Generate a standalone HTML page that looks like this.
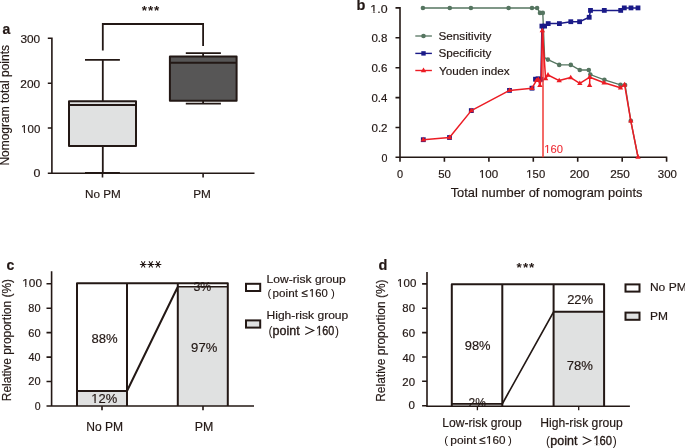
<!DOCTYPE html>
<html><head><meta charset="utf-8">
<style>
html,body{margin:0;padding:0;background:#fff;width:685px;height:448px;overflow:hidden}
svg{display:block;will-change:transform}
*{-webkit-font-smoothing:antialiased}
text{font-family:"Liberation Sans",sans-serif;fill:#231815;stroke:#231815;stroke-width:0.18px}
</style></head>
<body>
<svg width="685" height="448" viewBox="0 0 685 448">
<rect width="685" height="448" fill="#fff"/>

<rect x="69" y="101.3" width="67" height="44.7" fill="#e0e1e1"/>
<rect x="169.9" y="56.4" width="66.7" height="44.4" fill="#575656"/>

<text x="2.6" y="34" font-size="14" font-weight="bold">a</text>
<text x="141.8 147.9 154" y="14.8" font-size="13.5" font-weight="bold" style="stroke-width:0">***</text>
<text x="20.43" y="42.60" font-size="11.40" textLength="19.73" lengthAdjust="spacingAndGlyphs">300</text><text x="20.31" y="88.30" font-size="11.40" textLength="19.85" lengthAdjust="spacingAndGlyphs">200</text><text x="21.14" y="133.10" font-size="11.40" textLength="19.21" lengthAdjust="spacingAndGlyphs">100</text><text x="33.50" y="177.30" font-size="11.40" textLength="6.91" lengthAdjust="spacingAndGlyphs">0</text><text x="84.96" y="198.20" font-size="11.80" textLength="35.79" lengthAdjust="spacingAndGlyphs">No PM</text><text x="193.16" y="198.20" font-size="11.80" textLength="17.69" lengthAdjust="spacingAndGlyphs">PM</text>
<text transform="translate(8.8 165.6) rotate(-90)" font-size="12" textLength="120.6" lengthAdjust="spacingAndGlyphs">Nomogram total points</text>
<rect x="21.07" y="131.69" width="2.92" height="1.80" fill="#fff"/><rect x="25.11" y="131.69" width="2.32" height="1.80" fill="#fff"/>
<g stroke="#231815" fill="none">
<path stroke-width="1.8" d="M102.8 50.5V24H203.1V46"/>
<path stroke-width="1.6" d="M51.9 37.5V174.1M47.8 38.3H51.9M47.8 83.2H51.9M47.8 128H51.9M47.8 173.3H51.9M51.1 173.3H254.5M102.5 173.3V177.6M203.1 173.3V177.6"/>
<path stroke-width="1.8" d="M102.8 59.9V101.3M102.8 146V173M85 59.9H119.9M85 172.8H119.9M203.1 53.1V56.4M203.1 100.8V103.7M185.8 53.1H220.9M185.8 103.7H220.9"/>
<path stroke-width="2" stroke-linejoin="round" d="M69 101.3H136V146H69ZM69 105H136M169.9 56.4H236.6V100.8H169.9ZM169.9 62.8H236.6"/>
</g>

<text x="356.4" y="10.1" font-size="14.5" font-weight="bold">b</text>
<g stroke="#231815" stroke-width="1.6" fill="none">
<path d="M400 7.1V158.1M395.5 7.9H400M395.5 37.8H400M395.5 67.7H400M395.5 97.6H400M395.5 127.5H400M395.5 157.3H400M399.2 157.3H667.3M400 157.3V161.8M444.4 157.3V161.8M488.9 157.3V161.8M533.3 157.3V161.8M577.7 157.3V161.8M622.2 157.3V161.8M666.6 157.3V161.8"/>
</g>
<text x="370.38" y="12.50" font-size="11.70" textLength="17.12" lengthAdjust="spacingAndGlyphs">1.0</text><text x="371.44" y="42.40" font-size="11.70" textLength="16.09" lengthAdjust="spacingAndGlyphs">0.8</text><text x="371.44" y="72.30" font-size="11.70" textLength="16.09" lengthAdjust="spacingAndGlyphs">0.6</text><text x="371.44" y="102.20" font-size="11.70" textLength="15.90" lengthAdjust="spacingAndGlyphs">0.4</text><text x="371.44" y="132.10" font-size="11.70" textLength="16.15" lengthAdjust="spacingAndGlyphs">0.2</text><text x="381.47" y="162.00" font-size="11.70" textLength="5.97" lengthAdjust="spacingAndGlyphs">0</text><text x="397.06" y="178.40" font-size="11.10" textLength="6.09" lengthAdjust="spacingAndGlyphs">0</text><text x="438.24" y="178.40" font-size="11.10" textLength="12.68" lengthAdjust="spacingAndGlyphs">50</text><text x="478.93" y="178.40" font-size="11.10" textLength="19.31" lengthAdjust="spacingAndGlyphs">100</text><text x="526.36" y="178.40" font-size="11.10" textLength="18.78" lengthAdjust="spacingAndGlyphs">150</text><text x="569.71" y="178.40" font-size="11.10" textLength="19.64" lengthAdjust="spacingAndGlyphs">200</text><text x="610.21" y="178.40" font-size="11.10" textLength="19.64" lengthAdjust="spacingAndGlyphs">250</text><text x="657.84" y="178.40" font-size="11.10" textLength="19.10" lengthAdjust="spacingAndGlyphs">300</text><text x="450.68" y="197.00" font-size="13.38" textLength="191.79" lengthAdjust="spacingAndGlyphs">Total number of nomogram points</text><text x="438.47" y="39.60" font-size="11.00" textLength="52.85" lengthAdjust="spacingAndGlyphs">Sensitivity</text><text x="438.47" y="57.10" font-size="11.00" textLength="52.85" lengthAdjust="spacingAndGlyphs">Specificity</text><text x="439.11" y="75.20" font-size="11.00" textLength="70.46" lengthAdjust="spacingAndGlyphs">Youden index</text>
<path d="M415.3 36H431.9" stroke="#557560" stroke-width="1.3"/><circle cx="423.5" cy="36" r="2.3" fill="#557560"/>
<path d="M415.3 53.4H431.9" stroke="#1a1a88" stroke-width="1.4"/><rect x="421.3" y="51.2" width="4.4" height="4.4" fill="#1a1a88"/>
<path d="M415.3 70.5H431.9" stroke="#ec1c24" stroke-width="1.4"/><path d="M423.5 67.6L426.2 72.2H420.8Z" fill="#ec1c24"/>
<path d="M422.9 8L449.8 8L470.9 8L508.6 8L532 8L537.1 8L540 12.9L542.8 12.9L544.6 57.5L547.9 59.6L559.2 64.9L570.8 64.9L579.8 70L588.8 70L590.3 74.6L604.4 79.8L620.5 84.9L625.1 85L630.8 120.8L638 157" fill="none" stroke="#557560" stroke-width="1.35"/>
<g fill="#557560"><circle cx="422.9" cy="8" r="2.3"/><circle cx="449.8" cy="8" r="2.3"/><circle cx="470.9" cy="8" r="2.3"/><circle cx="508.6" cy="8" r="2.3"/><circle cx="532" cy="8" r="2.3"/><circle cx="537.1" cy="8" r="2.3"/><circle cx="540" cy="12.9" r="2.3"/><circle cx="542.8" cy="12.9" r="2.3"/><circle cx="547.9" cy="59.6" r="2.3"/><circle cx="559.2" cy="64.9" r="2.3"/><circle cx="570.8" cy="64.9" r="2.3"/><circle cx="579.8" cy="70" r="2.3"/><circle cx="588.8" cy="70" r="2.3"/><circle cx="590.3" cy="74.6" r="2.3"/><circle cx="604.4" cy="79.8" r="2.3"/><circle cx="620.5" cy="84.9" r="2.3"/><circle cx="625.1" cy="85" r="2.3"/><circle cx="630.8" cy="120.8" r="2.3"/></g>
<path d="M535.5 79.2L538 78.8L541 79.3L541.9 26.1L544.6 26.1L548.2 23.6L559.4 23.6L570.8 21.7L579.6 21.7L589.2 17.3L590.5 10.4L604.3 10.4L620.7 10.4L624.3 7.9L631 7.9L638 7.9" fill="none" stroke="#1a1a88" stroke-width="1.5"/>
<g fill="#1a1a88"><rect x="420.9" y="137.3" width="4.8" height="4.8"/><rect x="447.1" y="135.1" width="4.8" height="4.8"/><rect x="468.9" y="108.2" width="4.8" height="4.8"/><rect x="507.1" y="88.0" width="4.8" height="4.8"/><rect x="529.6" y="85.8" width="4.8" height="4.8"/><rect x="533.1" y="76.8" width="4.8" height="4.8"/><rect x="535.6" y="76.4" width="4.8" height="4.8"/><rect x="538.6" y="76.9" width="4.8" height="4.8"/><rect x="539.5" y="23.7" width="4.8" height="4.8"/><rect x="542.2" y="23.7" width="4.8" height="4.8"/><rect x="545.8" y="21.2" width="4.8" height="4.8"/><rect x="557.0" y="21.2" width="4.8" height="4.8"/><rect x="568.4" y="19.3" width="4.8" height="4.8"/><rect x="577.2" y="19.3" width="4.8" height="4.8"/><rect x="586.8" y="14.9" width="4.8" height="4.8"/><rect x="588.1" y="8.0" width="4.8" height="4.8"/><rect x="601.9" y="8.0" width="4.8" height="4.8"/><rect x="618.3" y="8.0" width="4.8" height="4.8"/><rect x="621.9" y="5.5" width="4.8" height="4.8"/><rect x="628.6" y="5.5" width="4.8" height="4.8"/><rect x="635.6" y="5.5" width="4.8" height="4.8"/></g>
<path d="M543 31V157.3" stroke="#f03a36" stroke-width="1.5"/>
<path d="M423.3 139.7L449.5 137.5L471.3 110.6L509.5 90.4L532 88.2L536.5 80.3L538.3 79.3L539.9 85.4L541.2 79.5L542.3 30.6L545.6 78.6L548 75L559.2 80.6L570.7 77.6L579.8 83.4L589.8 77.2L589.6 85.3L589.8 77.2L604.1 82.8L620.5 87.8L624.6 84.7L630.8 120.8L638 157" fill="none" stroke="#ec1c24" stroke-width="1.5" stroke-linejoin="round"/>
<g fill="#ec1c24"><path d="M423.3 136.8L426.0 141.4H420.6Z"/><path d="M449.5 134.6L452.2 139.2H446.8Z"/><path d="M471.3 107.7L474.0 112.3H468.6Z"/><path d="M509.5 87.5L512.2 92.1H506.8Z"/><path d="M532.0 85.3L534.7 89.9H529.3Z"/><path d="M536.5 77.4L539.2 82.0H533.8Z"/><path d="M538.3 76.4L541.0 81.0H535.6Z"/><path d="M539.9 82.5L542.6 87.1H537.2Z"/><path d="M542.3 27.7L545.0 32.3H539.6Z"/><path d="M545.6 75.7L548.3 80.3H542.9Z"/><path d="M548.0 72.1L550.7 76.7H545.3Z"/><path d="M559.2 77.7L561.9 82.3H556.5Z"/><path d="M570.7 74.7L573.4 79.3H568.0Z"/><path d="M579.8 80.5L582.5 85.1H577.1Z"/><path d="M589.8 74.3L592.5 78.9H587.1Z"/><path d="M589.6 82.4L592.3 87.0H586.9Z"/><path d="M589.8 74.3L592.5 78.9H587.1Z"/><path d="M604.1 79.9L606.8 84.5H601.4Z"/><path d="M620.5 84.9L623.2 89.5H617.8Z"/><path d="M624.6 81.8L627.3 86.4H621.9Z"/><path d="M630.8 117.9L633.5 122.5H628.1Z"/><path d="M638.0 154.1L640.7 158.7H635.3Z"/></g>
<text x="544.26" y="152.70" font-size="11.70" textLength="18.67" lengthAdjust="spacingAndGlyphs" style="fill:#ee2a33;stroke:#ee2a33;stroke-width:0.1px">160</text>
<rect x="370.37" y="11.07" width="3.06" height="1.83" fill="#fff"/><rect x="374.62" y="11.07" width="2.46" height="1.83" fill="#fff"/><rect x="478.86" y="177.02" width="2.93" height="1.78" fill="#fff"/><rect x="482.92" y="177.02" width="2.33" height="1.78" fill="#fff"/><rect x="526.27" y="177.02" width="2.87" height="1.78" fill="#fff"/><rect x="530.24" y="177.02" width="2.28" height="1.78" fill="#fff"/><rect x="544.16" y="151.27" width="2.86" height="1.83" fill="#fff"/><rect x="548.12" y="151.27" width="2.27" height="1.83" fill="#fff"/>
<rect x="77" y="391" width="50" height="15" fill="#e0e1e1"/>
<rect x="177.8" y="286.7" width="50" height="119.3" fill="#e0e1e1"/>
<rect x="246" y="320.4" width="14.2" height="7.2" fill="#e0e1e1"/>
<text x="6.4" y="269.9" font-size="14" font-weight="bold">c</text>
<path d="M139.89999999999998 264.4H146.5M141.39999999999998 261.2L145.0 267.59999999999997M145.0 261.2L141.39999999999998 267.59999999999997M147.5 264.4H154.10000000000002M149.0 261.2L152.60000000000002 267.59999999999997M152.60000000000002 261.2L149.0 267.59999999999997M154.7 264.4H161.3M156.2 261.2L159.8 267.59999999999997M159.8 261.2L156.2 267.59999999999997" stroke="#231815" stroke-width="1.05" fill="none"/>
<text x="22.31" y="286.60" font-size="10.70" textLength="19.74" lengthAdjust="spacingAndGlyphs">100</text><text x="28.31" y="311.90" font-size="10.70" textLength="12.20" lengthAdjust="spacingAndGlyphs">80</text><text x="28.25" y="337.00" font-size="10.70" textLength="12.26" lengthAdjust="spacingAndGlyphs">60</text><text x="28.53" y="361.30" font-size="10.70" textLength="11.97" lengthAdjust="spacingAndGlyphs">40</text><text x="28.25" y="385.20" font-size="10.70" textLength="12.26" lengthAdjust="spacingAndGlyphs">20</text><text x="34.68" y="409.50" font-size="10.70" textLength="5.86" lengthAdjust="spacingAndGlyphs">0</text><text x="91.41" y="343.20" font-size="13.40" textLength="26.17" lengthAdjust="spacingAndGlyphs">88%</text><text x="191.11" y="351.60" font-size="13.40" textLength="26.17" lengthAdjust="spacingAndGlyphs">97%</text><text x="91.23" y="403.20" font-size="13.40" textLength="25.95" lengthAdjust="spacingAndGlyphs">12%</text><text x="86.24" y="430.70" font-size="12.20" textLength="36.84" lengthAdjust="spacingAndGlyphs">No PM</text><text x="194.71" y="430.70" font-size="12.20" textLength="18.58" lengthAdjust="spacingAndGlyphs">PM</text><text x="266.53" y="282.70" font-size="11.00" textLength="79.29" lengthAdjust="spacingAndGlyphs">Low-risk group</text><text x="266.54" y="319.40" font-size="11.00" textLength="81.75" lengthAdjust="spacingAndGlyphs">High-risk group</text>
<text transform="translate(10.7 401.2) rotate(-90)" font-size="12" textLength="122.2" lengthAdjust="spacingAndGlyphs">Relative proportion (%)</text>
<text x="267.6" y="297.4" font-size="11.5" style="stroke-width:0">(</text>
<text x="272.6" y="297.4" textLength="25.3" lengthAdjust="spacingAndGlyphs" font-size="11.5">point</text>
<text x="301.6" y="297.4" font-size="11.5">≤</text>
<text x="308.9" y="297.4" textLength="18.8" lengthAdjust="spacingAndGlyphs" font-size="11.5">160</text>
<text x="330.9" y="297.4" font-size="11.5" style="stroke-width:0">)</text>
<text x="268.4" y="334.9" font-size="12" style="stroke-width:0">(</text>
<text x="272.5" y="334.9" font-size="12.5" style="stroke-width:0.35px">point</text>
<text x="316.3" y="334.9" textLength="18.0" lengthAdjust="spacingAndGlyphs" font-size="12" style="stroke-width:0.35px">160</text>
<text x="334.9" y="334.9" font-size="12" style="stroke-width:0">)</text>
<g stroke="#231815" fill="none">
<path d="M305.2 326.7L313.7 330.5L305.2 334.4" stroke-width="1.1"/>
<path stroke-width="1.6" d="M51.6 271.3V406.8M46.5 283.8H51.6M46.5 308.2H51.6M46.5 332.6H51.6M46.5 357.1H51.6M46.5 381.5H51.6M46.5 406H51.6M50.8 406H254M102 406V410.3M203 406V410.3"/>
<path stroke-width="2" stroke-linejoin="round" d="M77 406V283.35H227.8V406M127 283.35V406M177.8 283.35V406M77 391H127L177.8 286.7"/><path stroke-width="1.6" d="M177.8 286.7H227.8"/>
<rect x="246" y="283.8" width="14.2" height="7.2" stroke-width="2"/>
<rect x="246" y="320.4" width="14.2" height="7.2" stroke-width="2"/>
</g>
<text x="193.41" y="291.40" font-size="13.40" textLength="17.83" lengthAdjust="spacingAndGlyphs">3%</text>
<rect x="22.26" y="285.25" width="2.97" height="1.75" fill="#fff"/><rect x="26.38" y="285.25" width="2.38" height="1.75" fill="#fff"/><rect x="91.27" y="401.64" width="3.17" height="1.95" fill="#e0e1e1"/><rect x="95.69" y="401.64" width="2.57" height="1.95" fill="#e0e1e1"/><rect x="308.81" y="295.99" width="2.87" height="1.81" fill="#fff"/><rect x="312.78" y="295.99" width="2.28" height="1.81" fill="#fff"/><rect x="315.97" y="333.25" width="2.79" height="2.25" fill="#fff"/><rect x="320.22" y="333.25" width="2.20" height="2.25" fill="#fff"/>
<rect x="451.8" y="403.9" width="50.5" height="2.3" fill="#e0e1e1"/>
<rect x="553.6" y="311.8" width="50.7" height="93.9" fill="#e0e1e1"/>
<rect x="625.5" y="312.6" width="14" height="7.2" fill="#e0e1e1"/>
<text x="378.5" y="269.5" font-size="14.5" font-weight="bold">d</text>
<text x="516.4 523 529" y="271.8" font-size="13.5" font-weight="bold" style="stroke-width:0">***</text>
<text x="397.14" y="287.30" font-size="10.60" textLength="19.21" lengthAdjust="spacingAndGlyphs">100</text><text x="402.39" y="311.70" font-size="10.60" textLength="12.64" lengthAdjust="spacingAndGlyphs">80</text><text x="402.33" y="336.70" font-size="10.60" textLength="12.70" lengthAdjust="spacingAndGlyphs">60</text><text x="402.62" y="361.70" font-size="10.60" textLength="12.39" lengthAdjust="spacingAndGlyphs">40</text><text x="402.33" y="385.70" font-size="10.60" textLength="12.70" lengthAdjust="spacingAndGlyphs">20</text><text x="408.64" y="409.40" font-size="10.60" textLength="6.44" lengthAdjust="spacingAndGlyphs">0</text><text x="464.72" y="350.30" font-size="13.20" textLength="25.85" lengthAdjust="spacingAndGlyphs">98%</text><text x="567.15" y="303.70" font-size="13.20" textLength="26.03" lengthAdjust="spacingAndGlyphs">22%</text><text x="566.64" y="369.70" font-size="13.20" textLength="26.23" lengthAdjust="spacingAndGlyphs">78%</text><text x="468.50" y="407.40" font-size="13.20" textLength="17.32" lengthAdjust="spacingAndGlyphs">2%</text><text x="649.94" y="291.10" font-size="10.70" textLength="36.74" lengthAdjust="spacingAndGlyphs">No PM</text><text x="649.94" y="319.70" font-size="10.70" textLength="17.91" lengthAdjust="spacingAndGlyphs">PM</text><text x="442.23" y="427.10" font-size="12.10" textLength="79.39" lengthAdjust="spacingAndGlyphs">Low-risk group</text><text x="540.33" y="427.10" font-size="12.10" textLength="82.36" lengthAdjust="spacingAndGlyphs">High-risk group</text>
<text transform="translate(385 401.8) rotate(-90)" font-size="12" textLength="122.4" lengthAdjust="spacingAndGlyphs">Relative proportion (%)</text>
<text x="444.3" y="444.3" font-size="11.5" style="stroke-width:0">(</text>
<text x="450.3" y="444.3" textLength="25.9" lengthAdjust="spacingAndGlyphs" font-size="11.5">point</text>
<text x="479.3" y="444.3" font-size="11.5">≤</text>
<text x="486" y="444.3" textLength="19.5" lengthAdjust="spacingAndGlyphs" font-size="11.5">160</text>
<text x="508" y="444.3" font-size="11.5" style="stroke-width:0">)</text>
<text x="546.1" y="445.2" font-size="12" style="stroke-width:0">(</text>
<text x="550.3" y="445.2" font-size="12.5" style="stroke-width:0.35px">point</text>
<text x="593.4" y="445.2" textLength="18.7" lengthAdjust="spacingAndGlyphs" font-size="12" style="stroke-width:0.35px">160</text>
<text x="612.7" y="445.2" font-size="12" style="stroke-width:0">)</text>
<g stroke="#231815" fill="none">
<path d="M582.7 436.8L590.8 440.6L582.7 444.5" stroke-width="1.1"/>
<path stroke-width="1.6" d="M427 272V406.5M422.1 283.9H427M422.1 308.3H427M422.1 332.6H427M422.1 357H427M422.1 381.3H427M422.1 405.7H427"/><path stroke-width="1.3" d="M426.2 406.25H629.9M477.4 406.25V410.3M578.7 406.25V410.3"/>
<path stroke-width="2" stroke-linejoin="round" d="M451.8 406V284.3H604.1V406M502.3 284.3V406M553.6 284.3V406M553.6 311.8H604.3"/><path stroke-width="1.7" d="M451.8 403.85H502.3L553.6 311.8"/>
<rect x="625.5" y="284.4" width="14" height="7.2" stroke-width="2"/>
<rect x="625.5" y="312.6" width="14" height="7.2" stroke-width="2"/>
</g>
<rect x="397.07" y="285.95" width="2.92" height="1.74" fill="#fff"/><rect x="401.11" y="285.95" width="2.32" height="1.74" fill="#fff"/><rect x="485.94" y="442.89" width="2.95" height="1.81" fill="#fff"/><rect x="490.02" y="442.89" width="2.35" height="1.81" fill="#fff"/><rect x="593.10" y="443.55" width="2.86" height="2.25" fill="#fff"/><rect x="597.46" y="443.55" width="2.27" height="2.25" fill="#fff"/>
</svg>
</body></html>
